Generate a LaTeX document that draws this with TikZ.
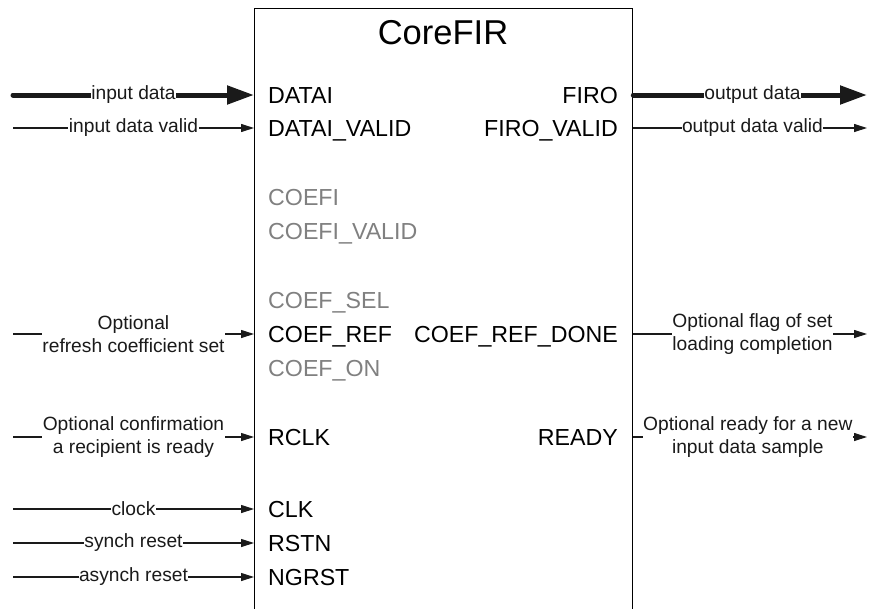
\documentclass[tikz,border=0pt]{standalone}
\usepackage{fontspec}
\setmainfont{Liberation Sans}
\usetikzlibrary{arrows.meta, positioning}
\definecolor{portgray}{HTML}{808080}
\definecolor{wirecharcoal}{HTML}{1A1A1A}

\begin{document}
\begin{tikzpicture}[
  x=1pt, y=-1pt,
  port/.style={font=\fontsize{23.2}{27}\selectfont, inner sep=0pt, text height=16.4pt, text depth=0pt},
  pin/.style={port, anchor=west},
  pout/.style={port, anchor=east},
  lbl/.style={fill=white, font=\fontsize{19.2}{23}\selectfont, inner sep=0.5pt, align=center},
  sig/.style={-{Triangle[length=13pt, width=8pt]}, line width=1.1pt, wirecharcoal},
  bus/.style={-{Triangle[length=27pt, width=18pt]}, line width=5pt, line cap=round, wirecharcoal}
]
\clip (0,0) rectangle (869,608);

% the core block, open at the bottom of the page
\node[draw, line width=1.3pt, minimum width=378pt, minimum height=660pt, anchor=north west, inner sep=0pt] (core) at (254,8) {};
\node[font=\fontsize{34.5}{38}\selectfont] (title) at (443,33) {CoreFIR};

% input ports
\node[pin] (datai) at (268,95) {DATAI};
\node[pin] (dataiv) at (268,128) {DATAI\_VALID};
\node[pin, portgray] (coefi) at (268,197) {COEFI};
\node[pin, portgray] (coefiv) at (268,231) {COEFI\_VALID};
\node[pin, portgray] (coefsel) at (268,300) {COEF\_SEL};
\node[pin] (coefref) at (268,334) {COEF\_REF};
\node[pin, portgray] (coefon) at (268,368) {COEF\_ON};
\node[pin] (rclk) at (268,437) {RCLK};
\node[pin] (clk) at (268,509) {CLK};
\node[pin] (rstn) at (268,543) {RSTN};
\node[pin] (ngrst) at (268,577) {NGRST};

% output ports
\node[pout] (firo) at (618,95) {FIRO};
\node[pout] (firov) at (618,128) {FIRO\_VALID};
\node[pout] (refdone) at (618,334) {COEF\_REF\_DONE};
\node[pout] (ready) at (618,437) {READY};

% free ends of the wires
\foreach \n/\p in {1/datai,2/dataiv,3/coefref,4/rclk,5/clk,6/rstn,7/ngrst}
  \coordinate (in\n) at (13,0 |- \p.west);
\foreach \n/\p in {1/firo,2/firov,3/refdone,4/ready}
  \coordinate (out\n) at (867,0 |- \p.east);

\draw[bus] (in1) -- node[lbl]{input data} (in1 -| core.west);
\draw[sig] (in2) -- node[lbl]{input data valid} (in2 -| core.west);
\draw[sig] (in3) -- node[lbl]{Optional\\refresh coefficient set} (in3 -| core.west);
\draw[sig] (in4) -- node[lbl]{Optional confirmation\\a recipient is ready} (in4 -| core.west);
\draw[sig] (in5) -- node[lbl]{clock} (in5 -| core.west);
\draw[sig] (in6) -- node[lbl]{synch reset} (in6 -| core.west);
\draw[sig] (in7) -- node[lbl]{asynch reset} (in7 -| core.west);

\draw[bus] (out1 -| core.east) -- node[lbl, pos=0.51]{output data} (out1);
\draw[sig] (out2 -| core.east) -- node[lbl, pos=0.51]{output data valid} (out2);
\draw[sig] (out3 -| core.east) -- node[lbl, pos=0.51]{Optional flag of set\\loading completion} (out3);
\draw[sig] (out4 -| core.east) -- node[lbl, pos=0.49]{Optional ready for a new\\input data sample} (out4);
\end{tikzpicture}
\end{document}
